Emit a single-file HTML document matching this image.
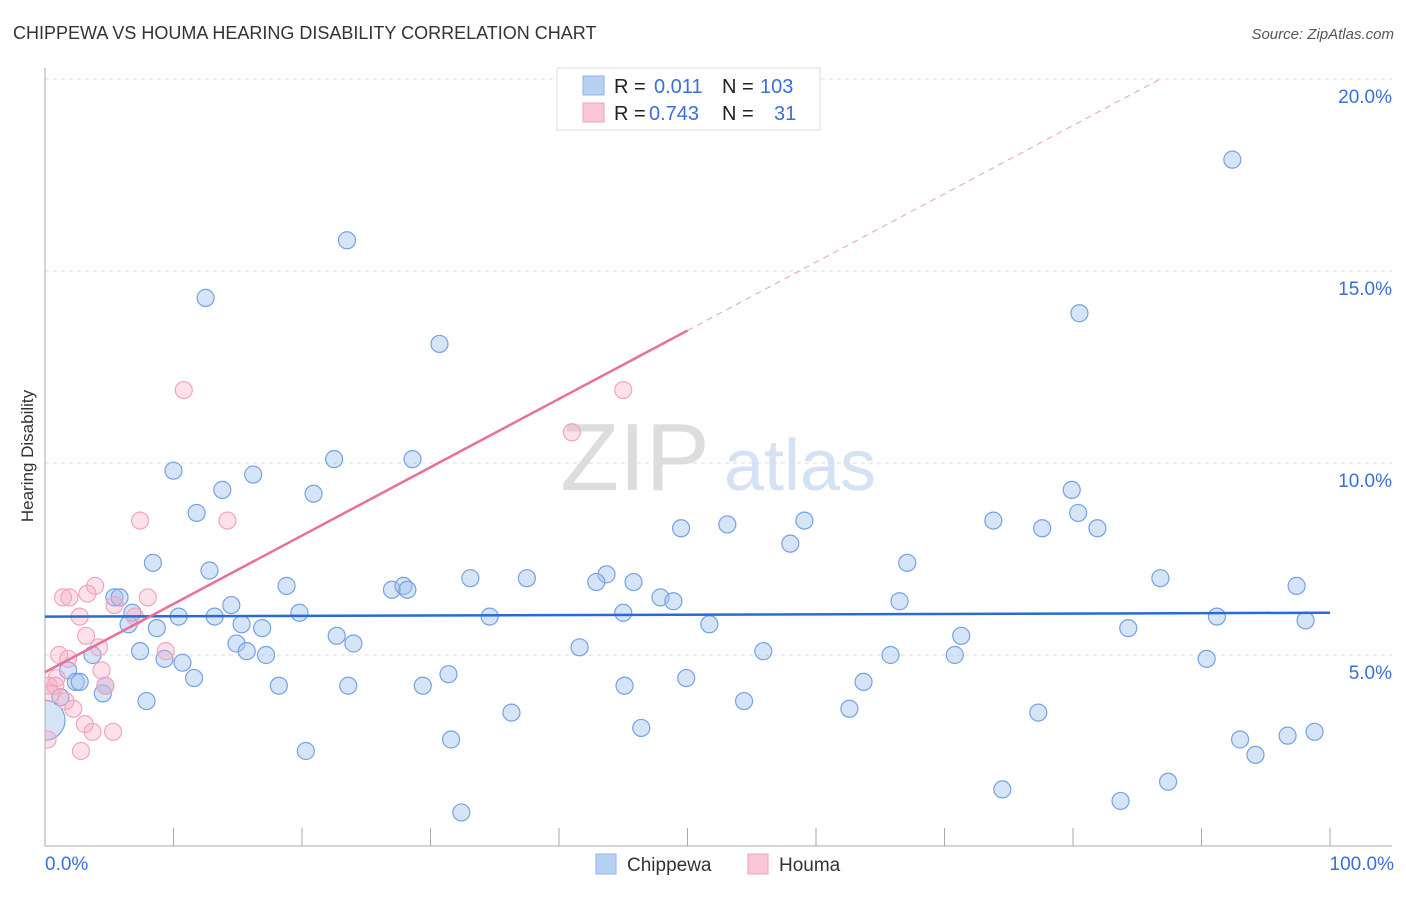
<!DOCTYPE html>
<html><head><meta charset="utf-8">
<style>
body{margin:0;background:#fff;font-family:"Liberation Sans",sans-serif;}
svg text{font-family:"Liberation Sans",sans-serif;}
</style></head>
<body>
<svg id="chart" width="1406" height="892" xmlns="http://www.w3.org/2000/svg">
<defs><clipPath id="plotclip"><rect x="45" y="60" width="1360" height="786"/></clipPath></defs>
<text x="13" y="39" font-size="18" fill="#333">CHIPPEWA VS HOUMA HEARING DISABILITY CORRELATION CHART</text>
<text x="1394" y="39" font-size="15" fill="#555" text-anchor="end" font-style="italic">Source: ZipAtlas.com</text>
<text transform="translate(33,456) rotate(-90)" font-size="17" fill="#333" text-anchor="middle">Hearing Disability</text>
<g>
<text x="635" y="490" font-size="96" fill="#ddd" font-family="Liberation Serif" text-anchor="middle">ZIP</text>
<text x="800" y="490" font-size="72" fill="#d4e2f4" text-anchor="middle">atlas</text>
</g>
<g id="grid"></g>
<g id="axes"></g>
<g id="pts" clip-path="url(#plotclip)"></g>
<g id="lines"></g>
<g>
<rect x="557" y="68" width="263" height="62" fill="#fff" stroke="#ddd"/>
<rect x="583" y="76" width="21" height="19" fill="#b7d1f3" stroke="#8fb3e8"/>
<rect x="583" y="103" width="21" height="19" fill="#f9c6d5" stroke="#f0a3bb"/>
<text x="614" y="93" font-size="20" fill="#222">R =</text>
<text x="654" y="93" font-size="20" fill="#3a6fd8">0.011</text>
<text x="722" y="93" font-size="20" fill="#222">N =</text>
<text x="760" y="93" font-size="20" fill="#3a6fd8">103</text>
<text x="614" y="120" font-size="20" fill="#222">R =</text>
<text x="649" y="120" font-size="20" fill="#3a6fd8">0.743</text>
<text x="722" y="120" font-size="20" fill="#222">N =</text>
<text x="774" y="120" font-size="20" fill="#3a6fd8">31</text>
</g>
<g>
<rect x="596" y="854" width="20" height="20" fill="#b7d1f3" stroke="#8fb3e8"/>
<text x="627" y="871" font-size="19" fill="#333">Chippewa</text>
<rect x="748" y="854" width="20" height="20" fill="#f9c6d5" stroke="#f0a3bb"/>
<text x="779" y="871" font-size="19" fill="#333">Houma</text>
</g>
</svg>
<script>
const chippewaX=[23.5,12.5,92.4,80.5,30.7,10,16.2,22.5,28.6,13.8,20.9,11.8,8.4,12.8,49.5,53.1,59.1,58,73.8,77.6,79.9,80.4,81.9,67.1,86.8,97.4,33.1,37.5,43.7,42.9,45.8,27,27.9,28.2,18.8,47.9,48.9,66.5,5.4,5.8,6.8,14.5,19.8,13.2,10.4,34.6,45,91.2,98.1,6.5,8.7,15.3,16.9,51.7,84.3,71.3,22.7,24,14.9,15.7,17.2,7.4,41.6,3.7,9.3,10.7,55.9,65.8,70.8,90.4,31.4,49.9,63.7,1.8,2.4,2.7,11.6,18.2,23.6,29.4,45.1,4.5,4.7,7.9,54.4,62.6,36.3,77.3,46.4,93,96.7,98.8,31.6,20.3,94.2,87.4,74.5,83.7,32.4,1.2,0];
const chippewaY=[15.8,14.3,17.9,13.9,13.1,9.8,9.7,10.1,10.1,9.3,9.2,8.7,7.4,7.2,8.3,8.4,8.5,7.9,8.5,8.3,9.3,8.7,8.3,7.4,7,6.8,7,7,7.1,6.9,6.9,6.7,6.8,6.7,6.8,6.5,6.4,6.4,6.5,6.5,6.1,6.3,6.1,6,6,6,6.1,6,5.9,5.8,5.7,5.8,5.7,5.8,5.7,5.5,5.5,5.3,5.3,5.1,5,5.1,5.2,5,4.9,4.8,5.1,5,5,4.9,4.5,4.4,4.3,4.6,4.3,4.3,4.4,4.2,4.2,4.2,4.2,4,4.2,3.8,3.8,3.6,3.5,3.5,3.1,2.8,2.9,3,2.8,2.5,2.4,1.7,1.5,1.2,0.9,3.9,3.3];
const houmaX=[10.8,45,41,7.4,14.2,3.9,1.4,1.9,3.3,5.4,8,7,2.7,3.2,4.2,1.1,1.8,0.9,4.4,0.3,0.8,4.7,1.6,2.2,3.1,3.7,5.3,9.4,2.8,0.2,0.5];
const houmaY=[11.9,11.9,10.8,8.5,8.5,6.8,6.5,6.5,6.6,6.3,6.5,6,6,5.5,5.2,5,4.9,4.4,4.6,4.2,4.2,4.2,3.8,3.6,3.2,3,3,5.1,2.5,2.8,4];
const yTicks=[5,10,15,20];
const yTickLabels=["5.0%","10.0%","15.0%","20.0%"];
const blueLine=[6.0,6.1];
const pinkLine=[4.55,13.45];
const pinkLineEndX=50;
const ns="http://www.w3.org/2000/svg";
const X=v=>45+v*12.85, Y=v=>847-v*38.4;
function mk(tag,attrs,parent){const e=document.createElementNS(ns,tag);for(const k in attrs)e.setAttribute(k,attrs[k]);parent.appendChild(e);return e;}
const grid=document.getElementById('grid'),axes=document.getElementById('axes'),pts=document.getElementById('pts'),lines=document.getElementById('lines');
yTicks.forEach((t,i)=>{
 const l=mk('line',{x1:45,x2:1392,y1:Y(t),y2:Y(t),stroke:'#ddd','stroke-dasharray':'4,4'},grid);
 
 
 const tx=mk('text',{x:1392,y:Y(t)+24,'font-size':19,fill:'#3a6fd8','text-anchor':'end'},axes);
 tx.textContent=yTickLabels[i];
 
 
});
const ya=mk('line',{x1:45,x2:45,y1:68,y2:846,stroke:'#aaa'},axes);


const xa=mk('line',{x1:45,x2:1392,y1:846,y2:846,stroke:'#aaa'},axes);


for(let i=0;i<=10;i++){
 const tk=mk('line',{x1:X(i*10),x2:X(i*10),y1:828,y2:846,stroke:'#aaa'},axes);
 
 
}
const x0=mk('text',{x:45,y:870,'font-size':19,fill:'#3a6fd8'},axes);x0.textContent='0.0%';


const x1=mk('text',{x:1394,y:870,'font-size':19,fill:'#3a6fd8','text-anchor':'end'},axes);x1.textContent='100.0%';


chippewaX.forEach((v,i)=>{
 const c=mk('circle',{cx:X(v),cy:Y(chippewaY[i]),r:(i==chippewaX.length-1?20:8.5),fill:'rgba(164,196,240,0.45)',stroke:'#75a2e2','stroke-width':1.2},pts);
 
 
});
houmaX.forEach((v,i)=>{
 const c=mk('circle',{cx:X(v),cy:Y(houmaY[i]),r:8.5,fill:'rgba(246,170,195,0.35)',stroke:'#f2a6bd','stroke-width':1.2},pts);
 
 
});
const bl=mk('line',{x1:X(0),x2:X(100),y1:Y(blueLine[0]),y2:Y(blueLine[1]),stroke:'#2a6ad6','stroke-width':2.5},lines);


const slope=(pinkLine[1]-pinkLine[0])/pinkLineEndX;
const pl=mk('line',{x1:X(0),x2:X(pinkLineEndX),y1:Y(pinkLine[0]),y2:Y(pinkLine[1]),stroke:'#e8709a','stroke-width':2.5},lines);


const xe=(20-pinkLine[0])/slope;
const pd=mk('line',{x1:X(pinkLineEndX),x2:X(xe),y1:Y(pinkLine[1]),y2:Y(20),stroke:'#e8a0b8','stroke-width':1,'stroke-dasharray':'6,5'},lines);


</script>
</body></html>
